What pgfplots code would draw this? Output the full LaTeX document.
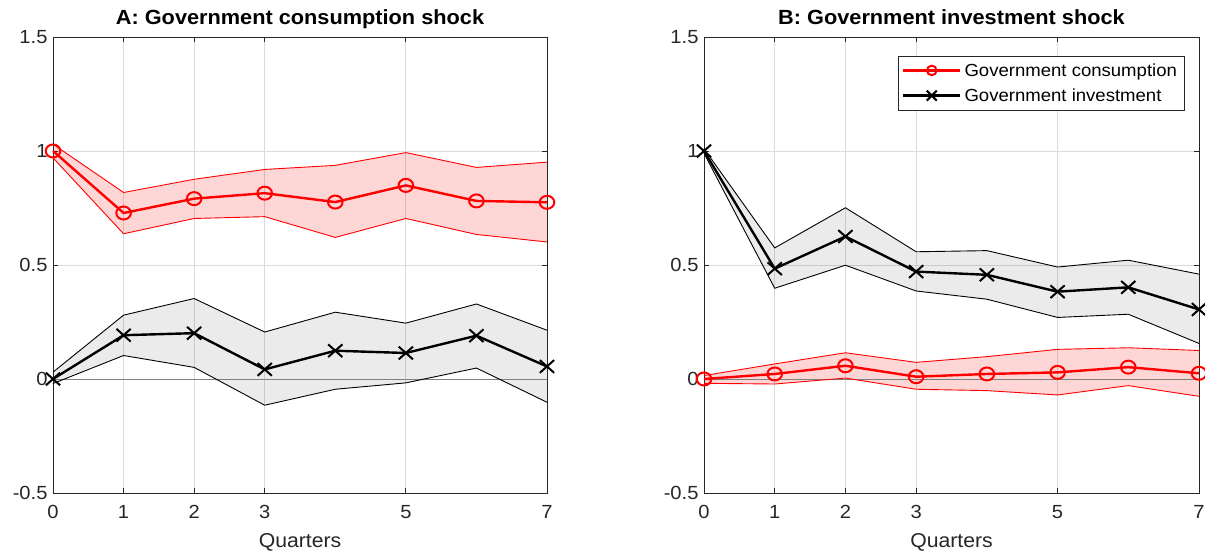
\documentclass[border=0pt]{standalone}
\usepackage{fontspec}
\setmainfont{Liberation Sans}[FakeStretch=1.06]
\usepackage{pgfplots}
\pgfplotsset{compat=1.18}
\usepackage{pgfplotstable}

\pgfplotstableread{
x rc rl ru kc kl ku
0 1.000 0.970 1.030 0.000 -0.020 0.030
1 0.728 0.637 0.818 0.192 0.103 0.280
2 0.791 0.704 0.876 0.201 0.051 0.353
3 0.815 0.712 0.919 0.042 -0.115 0.206
4 0.776 0.621 0.937 0.124 -0.045 0.293
5 0.849 0.704 0.993 0.114 -0.017 0.245
6 0.781 0.634 0.928 0.190 0.048 0.329
7 0.775 0.601 0.951 0.055 -0.102 0.214
}\tabA

\pgfplotstableread{
x rc rl ru kc kl ku
0 0.000 -0.019 0.015 1.000 0.990 1.010
1 0.022 -0.022 0.066 0.484 0.398 0.575
2 0.058 0.004 0.115 0.625 0.499 0.751
3 0.010 -0.045 0.073 0.471 0.386 0.558
4 0.022 -0.051 0.098 0.457 0.350 0.563
5 0.029 -0.070 0.130 0.383 0.270 0.491
6 0.052 -0.029 0.137 0.402 0.284 0.521
7 0.025 -0.076 0.125 0.305 0.156 0.460
}\tabB

\definecolor{axgray}{RGB}{38,38,38}

\pgfplotsset{
  panel/.style={
    scale only axis, width=494pt, height=456pt, anchor=south west,
    xmin=0, xmax=7, ymin=-0.5, ymax=1.5,
    xtick={0,1,2,3,5,7}, xticklabels={0,1,2,3,5,7},
    ytick={-0.5,0,0.5,1,1.5}, yticklabels={-0.5,0,0.5,1,1.5},
    tick align=inside, tick pos=both, major tick length=5pt,
    grid=major, major grid style={draw=black!14, line width=0.8pt},
    axis line style={draw=axgray, line width=0.9pt},
    every tick/.style={draw=axgray, line width=0.9pt},
    tick label style={font=\fontsize{19}{22}\selectfont, text=axgray},
    xticklabel style={yshift=-9pt},
    yticklabel style={xshift=-2pt},
    xlabel={Quarters},
    xlabel style={font=\fontsize{20}{23}\selectfont, text=axgray,
      at={(axis description cs:0.5,0)}, anchor=base, yshift=-55pt},
    title style={font=\bfseries\fontsize{20.5}{24}\selectfont,
      at={(axis description cs:0.5,1)}, anchor=base, yshift=6pt},
    clip=false,
  },
  rcen/.style={red, line width=2.4pt, mark=o, mark size=6.5pt,
    mark options={solid, line width=2pt, xscale=1.12}},
  kcen/.style={black, line width=2.4pt, mark=x, mark size=9pt,
    mark options={solid, line width=2pt, xscale=1.12}},
  rband/.style={fill=red, fill opacity=0.16, draw=none, forget plot},
  kband/.style={fill=black, fill opacity=0.08, draw=none, forget plot},
}

\begin{document}
\begin{tikzpicture}
\path[use as bounding box] (0pt,0pt) rectangle (1205pt,553pt);

% Panel A
\begin{axis}[panel, at={(53pt,60pt)}, title={A: Government consumption shock}]
\addplot[rband] coordinates {(0,1.030) (1,0.818) (2,0.876) (3,0.919) (4,0.937) (5,0.993) (6,0.928) (7,0.951)
  (7,0.601) (6,0.634) (5,0.704) (4,0.621) (3,0.712) (2,0.704) (1,0.637) (0,0.970)} -- cycle;
\addplot[kband] coordinates {(0,0.030) (1,0.280) (2,0.353) (3,0.206) (4,0.293) (5,0.245) (6,0.329) (7,0.214)
  (7,-0.102) (6,0.048) (5,-0.017) (4,-0.045) (3,-0.115) (2,0.051) (1,0.103) (0,-0.020)} -- cycle;
\addplot[black!50, line width=0.9pt, forget plot] coordinates {(0,0) (7,0)};
\addplot[red, line width=0.9pt, forget plot] table[x=x,y=ru]{\tabA};
\addplot[red, line width=0.9pt, forget plot] table[x=x,y=rl]{\tabA};
\addplot[black, line width=0.9pt, forget plot] table[x=x,y=ku]{\tabA};
\addplot[black, line width=0.9pt, forget plot] table[x=x,y=kl]{\tabA};
\addplot[rcen] table[x=x,y=rc]{\tabA};
\addplot[kcen] table[x=x,y=kc]{\tabA};
\end{axis}

% Panel B
\begin{axis}[panel, at={(704pt,60pt)}, width=495pt, title={B: Government investment shock},
  legend style={at={(0.970,0.958)}, anchor=north east,
    font=\fontsize{17.5}{20}\selectfont, draw=axgray,
    row sep=5pt, inner sep=4pt, nodes={inner sep=3pt}},
  legend cell align=left,
  legend image code/.code={\draw[mark repeat=2,mark phase=2,#1] plot coordinates {(0pt,0pt) (28.5pt,0pt) (57pt,0pt)};},
  legend image post style={mark size=4.8pt, line width=2.6pt, mark options={solid, line width=2pt, xscale=1}},
]
\addplot[kband] coordinates {(0,1.010) (1,0.575) (2,0.751) (3,0.558) (4,0.563) (5,0.491) (6,0.521) (7,0.460)
  (7,0.156) (6,0.284) (5,0.270) (4,0.350) (3,0.386) (2,0.499) (1,0.398) (0,0.990)} -- cycle;
\addplot[rband] coordinates {(0,0.015) (1,0.066) (2,0.115) (3,0.073) (4,0.098) (5,0.130) (6,0.137) (7,0.125)
  (7,-0.076) (6,-0.029) (5,-0.070) (4,-0.051) (3,-0.045) (2,0.004) (1,-0.022) (0,-0.019)} -- cycle;
\addplot[black!50, line width=0.9pt, forget plot] coordinates {(0,0) (7,0)};
\addplot[black, line width=0.9pt, forget plot] table[x=x,y=ku]{\tabB};
\addplot[black, line width=0.9pt, forget plot] table[x=x,y=kl]{\tabB};
\addplot[red, line width=0.9pt, forget plot] table[x=x,y=ru]{\tabB};
\addplot[red, line width=0.9pt, forget plot] table[x=x,y=rl]{\tabB};
\addplot[rcen] table[x=x,y=rc]{\tabB};
\addlegendentry{Government consumption}
\addplot[kcen, legend image post style={mark size=7pt}] table[x=x,y=kc]{\tabB};
\addlegendentry{Government investment}
\end{axis}
\end{tikzpicture}
\end{document}
